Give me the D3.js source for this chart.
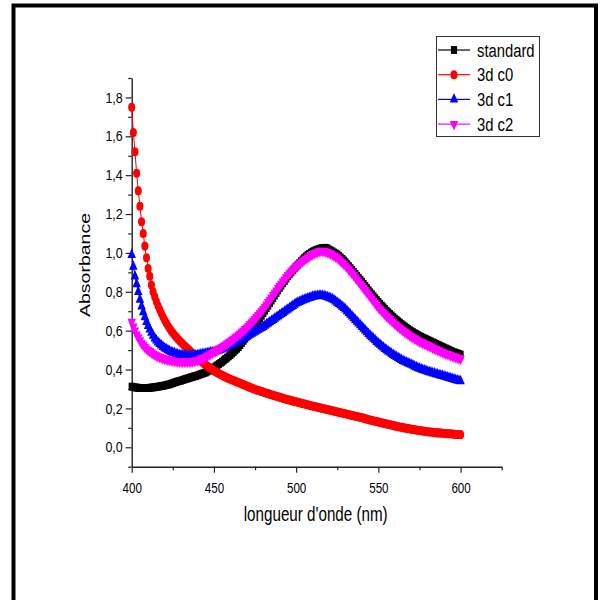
<!DOCTYPE html>
<html>
<head>
<meta charset="utf-8">
<script src="https://cdn.jsdelivr.net/npm/d3@7"></script>
<style>
  body { margin: 0; background: #fff; }
  svg { display: block; }
</style>
</head>
<body>
<script>
// Absorption spectra, 400–600 nm at 1 nm steps
const wavelengths = d3.range(400, 601);

const standard = [
  0.312,0.310,0.308,0.307,0.306,0.305,0.305,0.305,0.305,0.305,
  0.305,0.306,0.307,0.308,0.309,0.310,0.312,0.313,0.315,0.316,
  0.318,0.320,0.322,0.324,0.327,0.330,0.333,0.336,0.339,0.341,
  0.343,0.346,0.349,0.352,0.354,0.357,0.360,0.362,0.365,0.367,
  0.370,0.373,0.376,0.379,0.382,0.385,0.390,0.395,0.400,0.405,
  0.410,0.416,0.422,0.428,0.434,0.440,0.447,0.454,0.461,0.468,
  0.475,0.483,0.491,0.499,0.507,0.515,0.526,0.537,0.548,0.559,
  0.570,0.581,0.592,0.603,0.614,0.625,0.638,0.651,0.664,0.677,
  0.690,0.703,0.716,0.729,0.742,0.755,0.768,0.781,0.794,0.807,
  0.820,0.832,0.844,0.856,0.868,0.880,0.890,0.900,0.910,0.920,
  0.930,0.939,0.948,0.957,0.966,0.975,0.982,0.989,0.995,1.001,
  1.006,1.010,1.014,1.017,1.020,1.023,1.025,1.026,1.026,1.023,
  1.017,1.013,1.008,1.002,0.997,0.992,0.985,0.977,0.969,0.961,
  0.952,0.942,0.932,0.922,0.912,0.902,0.892,0.882,0.872,0.862,
  0.852,0.841,0.830,0.819,0.808,0.797,0.787,0.777,0.767,0.757,
  0.747,0.738,0.729,0.720,0.711,0.702,0.694,0.686,0.678,0.670,
  0.662,0.655,0.648,0.641,0.634,0.627,0.621,0.615,0.609,0.603,
  0.597,0.592,0.587,0.582,0.577,0.572,0.568,0.564,0.560,0.556,
  0.552,0.548,0.544,0.540,0.536,0.532,0.528,0.524,0.520,0.516,
  0.512,0.508,0.504,0.500,0.496,0.492,0.489,0.486,0.483,0.480,
  0.477
];

const c0 = [
  1.750,1.620,1.520,1.410,1.320,1.240,1.160,1.100,1.035,0.975,
  0.920,0.880,0.835,0.800,0.775,0.750,0.728,0.709,0.690,0.672,
  0.655,0.640,0.625,0.612,0.600,0.589,0.578,0.568,0.558,0.549,
  0.540,0.532,0.524,0.516,0.508,0.500,0.492,0.484,0.476,0.467,
  0.458,0.451,0.444,0.437,0.430,0.424,0.418,0.412,0.406,0.400,
  0.394,0.389,0.384,0.379,0.374,0.370,0.366,0.362,0.358,0.354,
  0.350,0.346,0.343,0.340,0.336,0.333,0.329,0.326,0.322,0.319,
  0.315,0.312,0.308,0.305,0.301,0.298,0.295,0.292,0.290,0.287,
  0.284,0.281,0.278,0.276,0.273,0.270,0.267,0.265,0.262,0.260,
  0.257,0.255,0.252,0.250,0.247,0.245,0.243,0.241,0.238,0.236,
  0.234,0.232,0.230,0.227,0.225,0.223,0.221,0.219,0.216,0.214,
  0.212,0.210,0.208,0.206,0.204,0.202,0.200,0.198,0.196,0.194,
  0.192,0.190,0.188,0.186,0.184,0.182,0.180,0.178,0.176,0.174,
  0.172,0.170,0.168,0.166,0.164,0.162,0.160,0.158,0.156,0.154,
  0.152,0.150,0.147,0.145,0.142,0.140,0.138,0.136,0.134,0.132,
  0.130,0.128,0.126,0.124,0.122,0.120,0.118,0.116,0.114,0.112,
  0.110,0.108,0.106,0.104,0.103,0.101,0.099,0.098,0.096,0.095,
  0.093,0.092,0.090,0.089,0.087,0.086,0.085,0.084,0.082,0.081,
  0.080,0.079,0.078,0.077,0.076,0.075,0.074,0.074,0.073,0.072,
  0.071,0.071,0.070,0.069,0.069,0.068,0.067,0.067,0.066,0.066,
  0.065
];

const c1 = [
  0.990,0.930,0.880,0.840,0.800,0.760,0.725,0.695,0.670,0.645,
  0.625,0.607,0.590,0.575,0.560,0.550,0.540,0.532,0.525,0.517,
  0.510,0.505,0.500,0.495,0.490,0.487,0.484,0.481,0.478,0.476,
  0.474,0.473,0.472,0.471,0.470,0.470,0.470,0.471,0.472,0.473,
  0.474,0.476,0.478,0.480,0.481,0.482,0.484,0.486,0.488,0.489,
  0.490,0.493,0.496,0.499,0.502,0.505,0.509,0.513,0.517,0.521,
  0.525,0.529,0.533,0.537,0.541,0.545,0.550,0.555,0.560,0.565,
  0.570,0.575,0.580,0.585,0.590,0.595,0.600,0.605,0.610,0.615,
  0.620,0.626,0.632,0.638,0.644,0.650,0.656,0.662,0.668,0.674,
  0.680,0.686,0.692,0.698,0.704,0.710,0.716,0.722,0.728,0.734,
  0.740,0.744,0.748,0.752,0.756,0.760,0.763,0.766,0.769,0.772,
  0.775,0.777,0.778,0.779,0.780,0.780,0.779,0.778,0.776,0.773,
  0.770,0.766,0.762,0.757,0.751,0.745,0.738,0.731,0.724,0.717,
  0.710,0.701,0.692,0.683,0.674,0.665,0.656,0.647,0.638,0.629,
  0.620,0.611,0.602,0.593,0.584,0.575,0.567,0.559,0.551,0.543,
  0.535,0.528,0.521,0.514,0.507,0.500,0.494,0.488,0.482,0.476,
  0.470,0.465,0.460,0.455,0.450,0.445,0.441,0.437,0.433,0.429,
  0.425,0.421,0.417,0.413,0.409,0.405,0.402,0.399,0.396,0.393,
  0.390,0.387,0.385,0.382,0.380,0.377,0.375,0.372,0.370,0.367,
  0.365,0.362,0.360,0.357,0.355,0.352,0.350,0.347,0.345,0.342,
  0.340
];

const c2 = [
  0.645,0.620,0.600,0.580,0.565,0.550,0.535,0.525,0.515,0.507,
  0.500,0.494,0.488,0.482,0.477,0.472,0.468,0.465,0.461,0.458,
  0.455,0.453,0.451,0.449,0.447,0.445,0.444,0.443,0.442,0.441,
  0.440,0.440,0.440,0.440,0.440,0.440,0.441,0.442,0.444,0.445,
  0.447,0.450,0.454,0.458,0.461,0.465,0.470,0.475,0.480,0.485,
  0.490,0.495,0.500,0.505,0.510,0.515,0.521,0.527,0.533,0.539,
  0.545,0.551,0.558,0.565,0.571,0.578,0.585,0.593,0.600,0.608,
  0.615,0.624,0.633,0.642,0.651,0.660,0.670,0.680,0.690,0.700,
  0.710,0.722,0.734,0.746,0.758,0.770,0.782,0.794,0.806,0.818,
  0.830,0.841,0.852,0.863,0.874,0.885,0.894,0.903,0.912,0.921,
  0.930,0.937,0.944,0.951,0.958,0.965,0.971,0.977,0.982,0.988,
  0.993,0.997,1.001,1.005,1.008,1.010,1.010,1.009,1.007,1.004,
  1.000,0.996,0.991,0.986,0.981,0.975,0.967,0.959,0.951,0.943,
  0.935,0.925,0.915,0.905,0.895,0.885,0.874,0.863,0.852,0.841,
  0.830,0.819,0.808,0.797,0.786,0.775,0.764,0.753,0.742,0.731,
  0.720,0.711,0.702,0.693,0.684,0.675,0.667,0.659,0.651,0.643,
  0.635,0.628,0.621,0.614,0.607,0.600,0.594,0.588,0.582,0.576,
  0.570,0.565,0.560,0.555,0.550,0.545,0.541,0.537,0.533,0.529,
  0.525,0.521,0.517,0.513,0.509,0.505,0.501,0.497,0.493,0.489,
  0.485,0.482,0.479,0.476,0.473,0.470,0.467,0.464,0.461,0.458,
  0.455
];

const seriesNames = ["standard", "3d c0", "3d c1", "3d c2"];
const seriesValues = [standard, c0, c1, c2];

const xMajorTicks = [400, 450, 500, 550, 600];
const xMinorTicks = [425, 475, 525, 575, 625];
const yMajorTicks = [0, 0.2, 0.4, 0.6, 0.8, 1.0, 1.2, 1.4, 1.6, 1.8];
const yMinorTicks = [-0.1, 0.1, 0.3, 0.5, 0.7, 0.9, 1.1, 1.3, 1.5, 1.7, 1.9];

// ---- styling ----
const W = 605, H = 600;
const FONT = "'Liberation Sans', Arial, sans-serif";
const SQUEEZE = 0.78;           // narrow, condensed look of text and markers
const colors = ["#000000", "#ff0000", "#0000ff", "#ff00ff"];
const shapes = [
  { type: d3.symbolSquare,   size: 62, rot: 0 },
  { type: d3.symbolCircle,   size: 64, rot: 0 },
  { type: d3.symbolTriangle, size: 52, rot: 0 },
  { type: d3.symbolTriangle, size: 52, rot: 180 }
];

const svg = d3.select("body").append("svg")
  .attr("width", W).attr("height", H);

svg.append("rect").attr("width", W).attr("height", H).attr("fill", "#fff");

// outer frame (open at the bottom edge of the page)
svg.append("rect")
  .attr("x", 13.5).attr("y", 5.5)
  .attr("width", 582.5).attr("height", 640)
  .attr("fill", "none").attr("stroke", "#000").attr("stroke-width", 4);

const x = d3.scaleLinear().domain([400, 625]).range([131.7, 501.7]);
const y = d3.scaleLinear().domain([-0.1, 1.9]).range([466.7, 78]);

const fmtY = v => d3.format(".1f")(v).replace(".", ",");

// ---- axes ----
const axisColor = "#222";
function styleAxis(g) {
  g.select(".domain").attr("stroke", axisColor).attr("stroke-width", 1.4);
  g.selectAll(".tick line").attr("stroke", axisColor).attr("stroke-width", 1.2);
}

const xAxisG = svg.append("g").attr("transform", `translate(0,${y(-0.1)})`);
xAxisG.call(d3.axisBottom(x).tickValues(xMajorTicks).tickSize(6).tickPadding(10.5)
  .tickSizeOuter(0).tickFormat(d3.format("d")));
styleAxis(xAxisG);
xAxisG.selectAll(".tick text")
  .attr("font-family", FONT).attr("font-size", 14.5).attr("fill", "#000")
  .attr("transform", `scale(${SQUEEZE + 0.02},1)`);

const xMinorG = svg.append("g").attr("transform", `translate(0,${y(-0.1)})`);
xMinorG.call(d3.axisBottom(x).tickValues(xMinorTicks).tickSize(3.5).tickFormat(""));
xMinorG.select(".domain").remove();
styleAxis(xMinorG);

const yAxisG = svg.append("g").attr("transform", `translate(${x(400)},0)`);
yAxisG.call(d3.axisLeft(y).tickValues(yMajorTicks).tickSize(6).tickPadding(3)
  .tickSizeOuter(0).tickFormat(fmtY));
styleAxis(yAxisG);
yAxisG.selectAll(".tick text")
  .attr("font-family", FONT).attr("font-size", 14.5).attr("fill", "#000")
  .attr("x", -9 / (SQUEEZE + 0.08))
  .attr("transform", `scale(${SQUEEZE + 0.08},1)`);

const yMinorG = svg.append("g").attr("transform", `translate(${x(400)},0)`);
yMinorG.call(d3.axisLeft(y).tickValues(yMinorTicks).tickSize(3.5).tickFormat(""));
yMinorG.select(".domain").remove();
styleAxis(yMinorG);

// axis titles
svg.append("text")
  .attr("transform", `translate(${(x(400) + x(625)) / 2 - 1},521) scale(${SQUEEZE},1)`)
  .attr("text-anchor", "middle")
  .attr("font-family", FONT).attr("font-size", 19.5).attr("fill", "#000")
  .text("longueur d'onde (nm)");

svg.append("text")
  .attr("transform", `translate(90,265) scale(${SQUEEZE},1) rotate(-90)`)
  .attr("text-anchor", "middle")
  .attr("font-family", FONT).attr("font-size", 19.5).attr("fill", "#000")
  .text("Absorbance");

// ---- series ----
const line = d3.line().x((d, i) => x(wavelengths[i])).y(d => y(d));

function markerPath(s) {
  return d3.symbol().type(shapes[s].type).size(shapes[s].size)();
}

seriesValues.forEach((vals, s) => {
  const g = svg.append("g");
  g.append("path")
    .attr("d", line(vals))
    .attr("fill", "none").attr("stroke", colors[s]).attr("stroke-width", 1);
  g.selectAll("path.m")
    .data(vals)
    .join("path")
    .attr("class", "m")
    .attr("d", markerPath(s))
    .attr("transform", (d, i) =>
      `translate(${x(wavelengths[i])},${y(d)}) scale(${SQUEEZE},1) rotate(${shapes[s].rot})`)
    .attr("fill", colors[s]);
});

// ---- legend ----
const legend = svg.append("g");
legend.append("rect")
  .attr("x", 436.5).attr("y", 36.5).attr("width", 103).attr("height", 100)
  .attr("fill", "#fff").attr("stroke", "#333").attr("stroke-width", 1);

seriesNames.forEach((name, s) => {
  const ly = 50 + s * 24.7;
  legend.append("line")
    .attr("x1", 438).attr("x2", 470).attr("y1", ly).attr("y2", ly)
    .attr("stroke", colors[s]).attr("stroke-width", 1.2);
  legend.append("path")
    .attr("d", markerPath(s))
    .attr("transform", `translate(454,${ly}) scale(${SQUEEZE},1) rotate(${shapes[s].rot})`)
    .attr("fill", colors[s]);
  legend.append("text")
    .attr("transform", `translate(477,${ly}) scale(${SQUEEZE},1)`)
    .attr("dy", "0.35em")
    .attr("font-family", FONT).attr("font-size", 19).attr("fill", "#000")
    .text(name);
});
</script>
</body>
</html>
